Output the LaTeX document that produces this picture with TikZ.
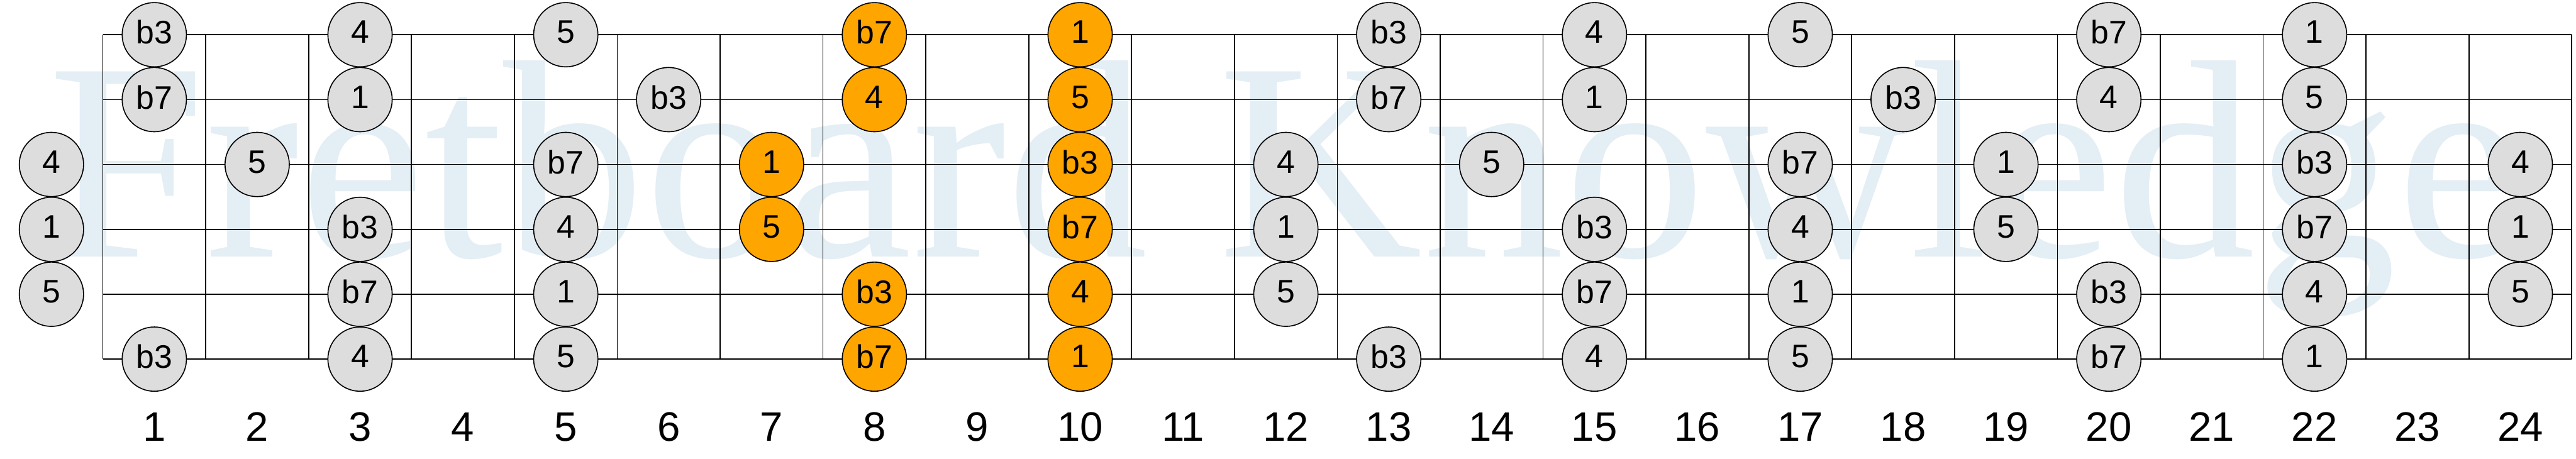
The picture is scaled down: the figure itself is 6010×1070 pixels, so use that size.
\documentclass[tikz,border=0pt]{standalone}
\usepackage{fontspec}
\setmainfont{Liberation Sans}
\newfontfamily\wmfont{Liberation Serif}
\definecolor{wmblue}{RGB}{228,238,245}
\definecolor{notegrey}{RGB}{221,221,221}
\definecolor{noteorange}{RGB}{255,165,0}
\begin{document}
\begin{tikzpicture}[x=0.1pt,y=-0.1pt,
  note/.style={circle,draw=black,line width=0.24pt,minimum size=15pt,inner sep=0pt,
    font=\fontsize{7.6pt}{8pt}\selectfont},
  greynote/.style={note,fill=notegrey},
  hlnote/.style={note,fill=noteorange},
  fretnum/.style={inner sep=0pt,font=\fontsize{9.6pt}{10pt}\selectfont},
  gridline/.style={line width=0.26pt,draw=black}]
\useasboundingbox (0,0) rectangle (6010,1070);
% watermark
\node[anchor=base west,text=wmblue,inner sep=0pt,
  font=\wmfont\fontsize{66pt}{66pt}\selectfont] (wm) at (110,600) {Fretboard Knowledge};
% strings
\foreach \s in {0,...,5}
  \draw[gridline] (240,81+151.4*\s) -- (6000,81+151.4*\s);
% frets
\foreach \f in {0,...,24}
  \draw[gridline] (240+240*\f,81) -- (240+240*\f,838);
% grey notes
\foreach \fr/\st/\lab in {0/3/4,0/4/1,0/5/5,
  1/1/b3,1/2/b7,1/6/b3,
  2/3/5,
  3/1/4,3/2/1,3/4/b3,3/5/b7,3/6/4,
  5/1/5,5/3/b7,5/4/4,5/5/1,5/6/5,
  6/2/b3,
  12/3/4,12/4/1,12/5/5,
  13/1/b3,13/2/b7,13/6/b3,
  14/3/5,
  15/1/4,15/2/1,15/4/b3,15/5/b7,15/6/4,
  17/1/5,17/3/b7,17/4/4,17/5/1,17/6/5,
  18/2/b3,
  19/3/1,19/4/5,
  20/1/b7,20/2/4,20/5/b3,20/6/b7,
  22/1/1,22/2/5,22/3/b3,22/4/b7,22/5/4,22/6/1,
  24/3/4,24/4/1,24/5/5}
  \node[greynote] (n\fr-\st) at (120+240*\fr,81+151.4*\st-151.4) {\raisebox{1.2pt}{\lab}};
% highlighted notes
\foreach \fr/\st/\lab in {7/3/1,7/4/5,
  8/1/b7,8/2/4,8/5/b3,8/6/b7,
  10/1/1,10/2/5,10/3/b3,10/4/b7,10/5/4,10/6/1}
  \node[hlnote] (n\fr-\st) at (120+240*\fr,81+151.4*\st-151.4) {\raisebox{1.2pt}{\lab}};
% fret numbers
\foreach \n in {1,...,24}
  \node[fretnum] (f\n) at (120+240*\n,996) {\n};
\end{tikzpicture}
\end{document}
